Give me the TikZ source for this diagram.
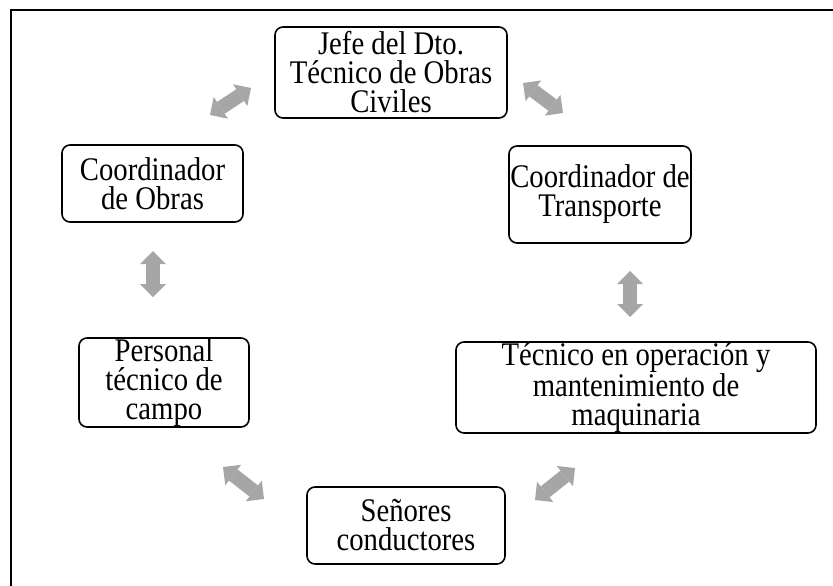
\documentclass[tikz,border=0pt]{standalone}
\usepackage{fontspec}
\setmainfont[FakeStretch=0.87]{Liberation Serif}
\usetikzlibrary{arrows.meta}

\definecolor{gris}{RGB}{166,166,166}
\tikzstyle{caja} = [draw, line width=1.6pt, rounded corners=8pt, align=center, inner sep=0pt, font=\fontsize{33}{29}\selectfont]
\tikzstyle{flecha} = [draw=gris, line width=14pt, {Triangle[length=13pt,width=26pt,line width=0pt]}-{Triangle[length=13pt,width=26pt,line width=0pt]}]

\begin{document}
\begin{tikzpicture}[x=1pt,y=-1pt]
\useasboundingbox (0,0) rectangle (833,586);
\draw[line width=2pt] (833,10.5) -- (10.5,10.5) -- (10.5,586);

\node [caja, minimum width=232pt, minimum height=91pt] (jefe) at (391,72.5) {Jefe del Dto.\\Técnico de Obras\\Civiles};
\node [caja, minimum width=181pt, minimum height=77pt] (obras) at (152.5,183.5) {Coordinador\\de Obras};
\node [caja, minimum width=182pt, minimum height=97pt] (transporte) at (600,194.5) {Coordinador de\\Transporte};
\node [caja, minimum width=170pt, minimum height=89pt] (personal) at (164,382.5) {Personal\\técnico de\\campo};
\node [caja, minimum width=360pt, minimum height=91pt] (tecnico) at (636,387.5) {Técnico en operación y\\mantenimiento de\\maquinaria};
\node [caja, minimum width=198pt, minimum height=77pt] (senores) at (406,525.5) {Señores\\conductores};

% extremos de las flechas
\coordinate (jo1) at (210,115); \coordinate (jo2) at (251,88);
\coordinate (jt1) at (523,83);  \coordinate (jt2) at (563,113);
\coordinate (op1) at (153,251); \coordinate (op2) at (153,297);
\coordinate (tt1) at (630,271); \coordinate (tt2) at (630,317);
\coordinate (ps1) at (223,467); \coordinate (ps2) at (264,499);
\coordinate (ts1) at (535,500); \coordinate (ts2) at (575,468);

\draw [flecha] (jo1) -- (jo2);
\draw [flecha] (jt1) -- (jt2);
\draw [flecha] (op1) -- (op2);
\draw [flecha] (tt1) -- (tt2);
\draw [flecha] (ps1) -- (ps2);
\draw [flecha] (ts1) -- (ts2);
\end{tikzpicture}
\end{document}
